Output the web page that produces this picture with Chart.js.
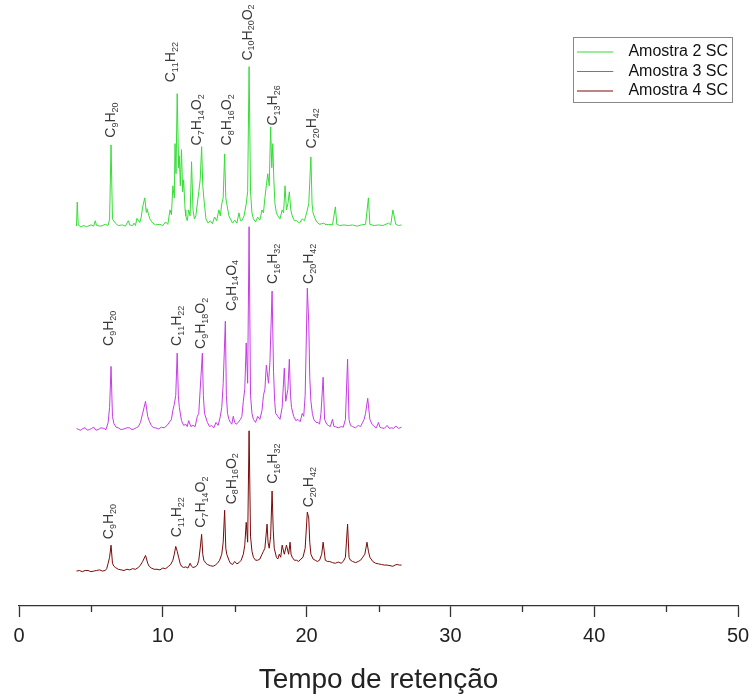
<!DOCTYPE html>
<html><head><meta charset="utf-8">
<script src="https://cdn.jsdelivr.net/npm/chart.js@4"></script>
<style>html,body{margin:0;padding:0;background:#fff}#wrap{width:754px;height:695px}</style>
</head><body><div id="wrap"><canvas id="c"></canvas></div>
<script>
const FONT = '"Liberation Sans", Arial, sans-serif';
const seriesNames = ['Amostra 2 SC', 'Amostra 3 SC', 'Amostra 4 SC'];
const seriesColors = ['#36dd36', '#c63be6', '#7a0a0a'];
const xTickValues = [0, 10, 20, 30, 40, 50];
const axisTitle = 'Tempo de retenção';
// vertical stacking offset for each chromatogram
const offset2 = 62.8, offset3 = 29, offset4 = 5.6;

// [retention time, intensity]
const amostra2 = [
[4.0,0.3],[4.05,4.3],[4.12,0.5],[4.3,0.2],[4.5,0.4],[4.7,0.2],[5.0,0.5],[5.2,0.3],[5.3,1.2],[5.4,0.4],[5.7,0.3],[6.0,0.6],[6.2,0.4],[6.3,1.5],[6.4,13.8],[6.5,1.5],[6.7,0.8],[6.9,0.4],[7.2,0.5],[7.4,0.3],[7.6,1.2],[7.7,0.5],[7.9,0.4],[8.0,0.8],[8.1,0.4],[8.2,1.6],[8.4,0.9],[8.5,1.8],[8.6,3.5],[8.75,5],[8.85,2.6],[8.9,3.2],[9.1,1.5],[9.3,0.8],[9.5,0.5],[9.8,0.6],[10.0,0.4],[10.2,1.0],[10.35,0.6],[10.5,3],[10.6,2.2],[10.7,7],[10.8,5],[10.85,14],[10.92,9],[11.0,22.3],[11.1,10],[11.15,12],[11.22,7],[11.3,13],[11.38,6],[11.45,8],[11.55,3],[11.6,2],[11.7,1.2],[11.8,3],[11.9,2],[12.0,11],[12.1,3],[12.2,1.5],[12.3,2],[12.4,4],[12.5,6],[12.6,8],[12.7,13.5],[12.78,7],[12.85,5],[13.0,1.5],[13.15,0.8],[13.3,1.2],[13.45,0.7],[13.6,1.8],[13.75,1.2],[13.9,3],[14.0,2],[14.1,4],[14.2,5],[14.3,12.3],[14.38,5],[14.45,4],[14.6,2],[14.7,1.5],[14.85,0.8],[15.0,1.3],[15.15,0.8],[15.3,2.5],[15.4,1.2],[15.5,1.2],[15.65,2],[15.8,4],[15.9,6],[16.0,26.8],[16.1,6],[16.2,2.5],[16.3,1.5],[16.45,1],[16.6,1.8],[16.75,1.3],[16.9,3],[17.0,2.5],[17.1,5],[17.2,7],[17.3,9],[17.4,7],[17.5,16.8],[17.58,10],[17.65,14],[17.72,8],[17.8,4],[17.9,2.5],[18.0,2],[18.15,1.5],[18.3,3],[18.4,2.5],[18.5,7],[18.6,3],[18.7,4],[18.8,6],[18.9,3],[19.0,2],[19.15,1.2],[19.3,1.2],[19.5,0.8],[19.7,1.5],[19.85,1.2],[20.0,2.5],[20.15,4],[20.3,11.8],[20.38,4],[20.45,2.5],[20.6,1.5],[20.7,1],[20.9,0.6],[21.2,0.8],[21.35,0.5],[21.5,0.6],[21.8,0.5],[22.0,3.5],[22.1,0.6],[22.3,0.4],[22.6,0.5],[22.9,0.4],[23.2,0.5],[23.5,0.3],[23.8,0.5],[24.1,0.6],[24.3,5],[24.4,0.6],[24.7,0.4],[25.0,0.5],[25.3,0.4],[25.7,0.8],[25.85,0.5],[26.0,3],[26.2,0.6],[26.4,0.4],[26.6,0.5]
];
const amostra3 = [
[4.0,0.5],[4.15,0.3],[4.3,0.2],[4.45,0.5],[4.6,0.6],[4.75,0.2],[4.9,0.3],[5.05,0.5],[5.2,0.7],[5.35,0.2],[5.5,0.3],[5.7,0.6],[5.9,0.5],[6.05,0.3],[6.2,1.5],[6.3,4],[6.4,10.8],[6.5,2.5],[6.6,1.3],[6.75,0.7],[6.9,0.6],[7.1,0.3],[7.3,0.4],[7.5,0.6],[7.7,0.6],[7.85,0.3],[8.0,0.4],[8.15,0.6],[8.3,0.8],[8.45,1.5],[8.6,3],[8.7,4],[8.8,5],[8.95,2.5],[9.05,1.8],[9.2,1],[9.35,0.6],[9.5,0.6],[9.7,0.4],[9.9,0.7],[10.1,0.6],[10.3,1],[10.45,1.5],[10.6,2],[10.7,3.5],[10.8,4.5],[10.9,6],[11.0,13],[11.08,6],[11.15,4],[11.3,1.8],[11.45,1],[11.6,1.2],[11.7,0.8],[11.8,1.8],[11.95,0.8],[12.1,1.0],[12.25,0.8],[12.4,2.5],[12.5,3],[12.6,7],[12.75,13],[12.82,6],[12.9,3],[13.1,1.5],[13.25,0.8],[13.4,1.0],[13.55,0.6],[13.7,1.5],[13.85,1],[14.0,2.5],[14.1,4],[14.2,8],[14.35,18.3],[14.42,6],[14.5,3],[14.6,2],[14.7,1.5],[14.8,1.2],[14.9,2.5],[15.0,1.5],[15.1,1.2],[15.25,1.5],[15.4,2],[15.5,2.5],[15.6,5],[15.7,7],[15.8,14.7],[15.9,8],[16.0,34],[16.1,6],[16.2,3],[16.3,2],[16.45,1.5],[16.6,2.5],[16.75,2],[16.9,3.5],[17.0,6],[17.1,7],[17.2,11],[17.35,8],[17.45,11.5],[17.6,23.3],[17.7,10],[17.78,5],[17.85,3],[18.0,2.5],[18.15,2],[18.3,4],[18.45,10.5],[18.55,5],[18.7,7],[18.8,12],[18.88,6],[18.95,4],[19.1,2.5],[19.25,1.8],[19.4,2],[19.55,1.6],[19.7,3],[19.8,2.5],[19.9,6],[20.05,23.8],[20.15,18],[20.22,9],[20.3,5],[20.4,3],[20.5,2],[20.65,1.5],[20.8,1.5],[20.9,1.2],[21.0,3],[21.15,9],[21.25,2],[21.4,1.2],[21.5,1],[21.65,0.8],[21.8,2],[21.9,0.8],[22.0,0.8],[22.2,0.6],[22.4,0.8],[22.55,0.7],[22.7,2],[22.85,12],[22.95,2],[23.05,1],[23.2,0.8],[23.4,0.6],[23.6,1],[23.75,0.8],[23.9,1.5],[24.0,2],[24.1,3],[24.25,5.5],[24.4,2],[24.55,1.2],[24.7,0.8],[24.85,0.6],[25.0,1.5],[25.1,0.7],[25.2,0.6],[25.4,0.5],[25.6,1],[25.75,0.5],[25.9,0.6],[26.05,0.5],[26.2,0.9],[26.4,0.5],[26.6,0.7]
];
const amostra4 = [
[4.0,0.2],[4.2,0.3],[4.4,0.1],[4.6,0.3],[4.8,0.3],[5.0,0.1],[5.2,0.2],[5.4,0.3],[5.6,0.4],[5.8,0.2],[6.0,0.3],[6.1,0.6],[6.2,1.5],[6.3,2.5],[6.4,4.5],[6.5,1.5],[6.6,1.0],[6.7,0.8],[6.9,0.5],[7.1,0.4],[7.3,0.3],[7.5,0.5],[7.7,0.4],[7.9,0.6],[8.1,0.5],[8.3,0.8],[8.45,1.2],[8.6,1.8],[8.8,2.8],[8.95,1.5],[9.05,1.0],[9.2,0.7],[9.4,0.5],[9.6,0.5],[9.8,0.4],[10.0,0.7],[10.2,0.6],[10.4,1],[10.55,1.3],[10.7,2],[10.8,3],[10.9,4.3],[11.0,3.5],[11.1,2.5],[11.2,1.5],[11.3,1],[11.45,0.8],[11.6,0.9],[11.75,0.7],[11.9,1.5],[12.0,1.0],[12.1,0.8],[12.25,0.9],[12.4,1.2],[12.5,2],[12.6,4],[12.7,6.3],[12.78,3],[12.85,2],[13.0,1.5],[13.1,1.3],[13.3,1.1],[13.5,1],[13.65,1.2],[13.8,1.5],[13.95,2],[14.1,3],[14.2,5],[14.3,10.3],[14.38,4],[14.45,3],[14.6,2],[14.7,1.5],[14.85,1.3],[15.0,1.8],[15.15,1.4],[15.3,1.6],[15.45,2],[15.6,3],[15.7,4.5],[15.8,8.3],[15.9,5],[16.0,23.5],[16.1,6],[16.2,3.5],[16.3,2.5],[16.45,2],[16.6,2],[16.75,2.2],[16.9,3],[17.0,3.5],[17.1,4],[17.25,8],[17.32,5],[17.4,4],[17.5,6],[17.6,13.5],[17.68,7],[17.75,4],[17.9,2.5],[18.0,2.2],[18.1,3],[18.2,2.5],[18.3,4.5],[18.45,3],[18.6,4.5],[18.75,3],[18.85,5],[18.92,3],[19.0,2.5],[19.15,2],[19.3,2],[19.45,1.8],[19.6,2.2],[19.75,2.5],[19.9,4],[20.05,10],[20.15,9],[20.22,5],[20.3,3],[20.45,2.2],[20.6,2],[20.75,1.8],[20.9,2],[21.05,3],[21.15,5],[21.3,2],[21.45,1.8],[21.6,1.8],[21.8,1.6],[22.0,1.5],[22.2,1.7],[22.4,1.5],[22.55,1.8],[22.7,2.5],[22.85,8],[22.95,2.5],[23.05,2],[23.2,1.8],[23.4,1.6],[23.6,1.8],[23.75,2],[23.9,2.5],[24.05,3],[24.2,5],[24.3,3.5],[24.4,2.5],[24.6,1.8],[24.8,1.5],[25.0,1.4],[25.2,1.3],[25.4,1.2],[25.6,1.2],[25.8,1.1],[26.0,1.0],[26.15,1.2],[26.3,1.3],[26.45,1.2],[26.6,1.2]
];

// peak labels: [retention time, intensity at label foot, formula]
const labels2 = [[6.4,15,'C9H20'],[10.6,24.2,'C11H22'],[12.4,13.7,'C7H14O2'],[14.5,13.7,'C8H16O2'],[15.9,27.8,'C10H20O2'],[17.7,17,'C13H26'],[20.4,13.2,'C20H42']];
const labels3 = [[6.3,14.2,'C9H20'],[11.0,14.2,'C11H22'],[12.7,13.7,'C9H18O2'],[14.8,20,'C9H14O4'],[17.7,24.5,'C16H32'],[20.2,24.5,'C20H42']];
const labels4 = [[6.3,5.5,'C9H20'],[11.0,5.8,'C11H22'],[12.7,7.4,'C7H14O2'],[14.8,11.3,'C8H16O2'],[17.7,14.7,'C16H32'],[20.2,10.8,'C20H42']];

const toPts = (arr, off) => arr.map(([t, v]) => ({x: t, y: v + off}));

const annotPlugin = {
  id: 'annot',
  afterDatasetsDraw(chart) {
    const {ctx, scales: {x, y}} = chart;
    const groups = [[labels2, offset2], [labels3, offset3], [labels4, offset4]];
    ctx.save();
    ctx.fillStyle = '#3a3a3a';
    groups.forEach(([list, off]) => {
      list.forEach(([t, v, txt]) => {
        const px = x.getPixelForValue(t), py = y.getPixelForValue(off + v);
        ctx.save();
        ctx.translate(px, py);
        ctx.rotate(-Math.PI / 2);
        ctx.textBaseline = 'middle';
        ctx.textAlign = 'left';
        let cx = 0;
        for (const ch of txt) {
          const sub = /\d/.test(ch);
          ctx.font = (sub ? '9px ' : '14px ') + FONT;
          ctx.fillText(ch, cx, sub ? 4 : 0);
          cx += ctx.measureText(ch).width;
        }
        ctx.restore();
      });
    });
    ctx.restore();
  }
};

const extrasPlugin = {
  id: 'extras',
  afterDraw(chart) {
    const {ctx, scales: {x}, chartArea} = chart;
    ctx.save();
    // minor ticks
    ctx.strokeStyle = '#333'; ctx.lineWidth = 1.3;
    [5, 15, 25, 35, 45].forEach(v => {
      const px = Math.round(x.getPixelForValue(v)) + 0.5;
      ctx.beginPath(); ctx.moveTo(px, chartArea.bottom); ctx.lineTo(px, chartArea.bottom + 6); ctx.stroke();
    });
    // legend
    ctx.strokeStyle = '#888'; ctx.lineWidth = 1;
    ctx.strokeRect(573.5, 37.5, 159, 65);
    seriesNames.forEach((n, i) => {
      const yy = 52 + i * 19.5;
      ctx.strokeStyle = seriesColors[i]; ctx.lineWidth = 1.2;
      ctx.beginPath(); ctx.moveTo(577, yy); ctx.lineTo(613, yy); ctx.stroke();
      ctx.fillStyle = '#111'; ctx.font = '16px ' + FONT;
      ctx.textBaseline = 'middle'; ctx.textAlign = 'right';
      ctx.fillText(n, 728, yy);
    });
    ctx.restore();
  }
};

new Chart(document.getElementById('c'), {
  type: 'line',
  data: {
    datasets: [
      {label: seriesNames[0], data: toPts(amostra2, offset2), borderColor: seriesColors[0]},
      {label: seriesNames[1], data: toPts(amostra3, offset3), borderColor: seriesColors[1]},
      {label: seriesNames[2], data: toPts(amostra4, offset4), borderColor: seriesColors[2]}
    ]
  },
  options: {
    responsive: true, maintainAspectRatio: false, animation: false,
    layout: {padding: {left: 19, right: 16, top: 4, bottom: 1}},
    plugins: {legend: {display: false}, tooltip: {enabled: false}},
    elements: {point: {radius: 0}, line: {borderWidth: 1, tension: 0}},
    scales: {
      x: {
        type: 'linear', min: 0, max: 50,
        afterBuildTicks: s => { s.ticks = xTickValues.map(v => ({value: v})); },
        afterFit: s => { s.paddingRight = 0; s.paddingLeft = 0; },
        ticks: {autoSkip: false, maxRotation: 0, padding: 9, color: '#222', font: {size: 20, family: FONT, lineHeight: 1}},
        grid: {drawOnChartArea: false, drawTicks: true, tickLength: 11, tickColor: '#333', tickWidth: 1.3},
        border: {display: true, color: '#333', width: 1.3},
        title: {display: true, text: axisTitle, color: '#222', font: {size: 28, family: FONT, lineHeight: 1}, padding: {top: 11, bottom: 0}}
      },
      y: {display: false, min: 0, max: 100}
    }
  },
  plugins: [annotPlugin, extrasPlugin]
});
</script>
</body></html>
